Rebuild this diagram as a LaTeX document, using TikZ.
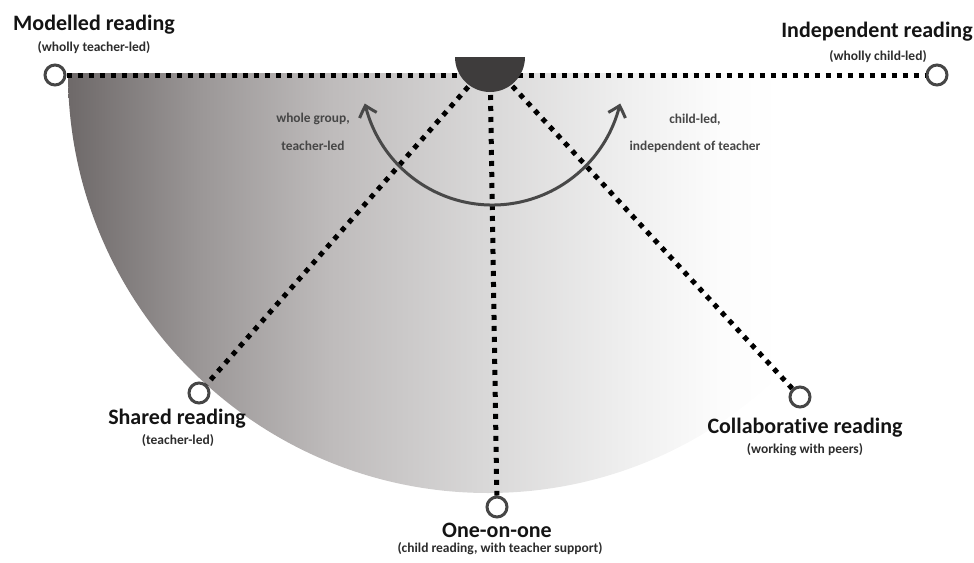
\documentclass[tikz,border=0pt]{standalone}
\usepackage{fontspec}
\setmainfont{Carlito}[Ligatures=NoCommon]
\usetikzlibrary{arrows.meta,bending}
\definecolor{s1}{RGB}{110,105,105}
\definecolor{s2}{RGB}{155,151,151}
\definecolor{s3}{RGB}{190,187,187}
\definecolor{s4}{RGB}{216,215,215}
\definecolor{s5}{RGB}{238,238,238}
\definecolor{s6}{RGB}{252,252,252}
\definecolor{hubc}{RGB}{62,60,60}
\definecolor{ringc}{RGB}{70,70,70}
\definecolor{arrowc}{RGB}{72,72,72}
\definecolor{titlec}{RGB}{20,20,20}
\definecolor{subc}{RGB}{45,45,45}
\definecolor{labc}{RGB}{70,70,70}
\pgfdeclarehorizontalshading{discshade}{100bp}{color(0bp)=(s1); color(25bp)=(s1); color(32.9bp)=(s2); color(40.6bp)=(s3); color(49.5bp)=(s4); color(57.9bp)=(s5); color(63.8bp)=(s6); color(67.4bp)=(white); color(100bp)=(white)}
\tikzset{
  ring/.style={circle, draw=ringc, line width=3pt, fill=white, minimum size=20pt, inner sep=0pt},
  dotline/.style={draw=black, line width=5pt, dash pattern=on 5pt off 6pt},
  title/.style={anchor=base, inner sep=0pt, text=titlec, font=\fontsize{22}{26}\selectfont\bfseries},
  subtitle/.style={anchor=base, inner sep=0pt, text=subc, font=\fontsize{13.5}{16}\selectfont\bfseries},
  sidelabel/.style={anchor=base, inner sep=0pt, text=labc, font=\fontsize{13.4}{16}\selectfont\bfseries},
  bigarrow/.style={draw=arrowc, line width=3pt, {Straight Barb[length=10pt,width=18pt,bend]}-{Straight Barb[length=10pt,width=18pt,bend]}}
}
\begin{document}
\begin{tikzpicture}[x=1pt,y=-1pt]
\useasboundingbox (0,0) rectangle (974,562);
% shaded half disc
\shade[shading=discshade] (68,73) arc[start angle=180,end angle=0,radius=420] -- cycle;
% rings
\node[ring] (model) at (55,75) {};
\node[ring] (indep) at (937,75) {};
\node[ring] (shared) at (199,393) {};
\node[ring] (one) at (497,507) {};
\node[ring] (collab) at (800,397) {};
\coordinate (hub) at (490,62);
% dotted connectors
\draw[dotline] (model) -- (indep);
\draw[dotline] (hub) -- (shared);
\draw[dotline] (hub) -- (one);
\draw[dotline] (hub) -- (collab);
% hub half disc
\fill[hubc] (455,57) arc[start angle=180,end angle=0,radius=35] -- cycle;
% double arrow
\draw[bigarrow] (492.5,74) ++(167:131) arc[start angle=167,end angle=13,radius=131];
% texts
\node[title] (tmodel) at (94,30.5) {Modelled reading};
\node[subtitle] (smodel) at (94,51) {(wholly teacher-led)};
\node[title] (tindep) at (877,37) {Independent reading};
\node[subtitle] (sindep) at (878,60) {(wholly child-led)};
\node[title] (tshared) at (177,424) {Shared reading};
\node[subtitle] (sshared) at (178,444) {(teacher-led)};
\node[title] (tcollab) at (805,433) {Collaborative reading};
\node[subtitle] (scollab) at (805,453) {(working with peers)};
\node[title] (tone) at (497,537) {One-on-one};
\node[subtitle] (sone) at (500,552) {(child reading, with teacher support)};
\node[sidelabel] (lwg) at (313,122) {whole group,};
\node[sidelabel] (ltl) at (313,150) {teacher-led};
\node[sidelabel] (lcl) at (695,123) {child-led,};
\node[sidelabel] (lit) at (695,150) {independent of teacher};
\end{tikzpicture}
\end{document}
